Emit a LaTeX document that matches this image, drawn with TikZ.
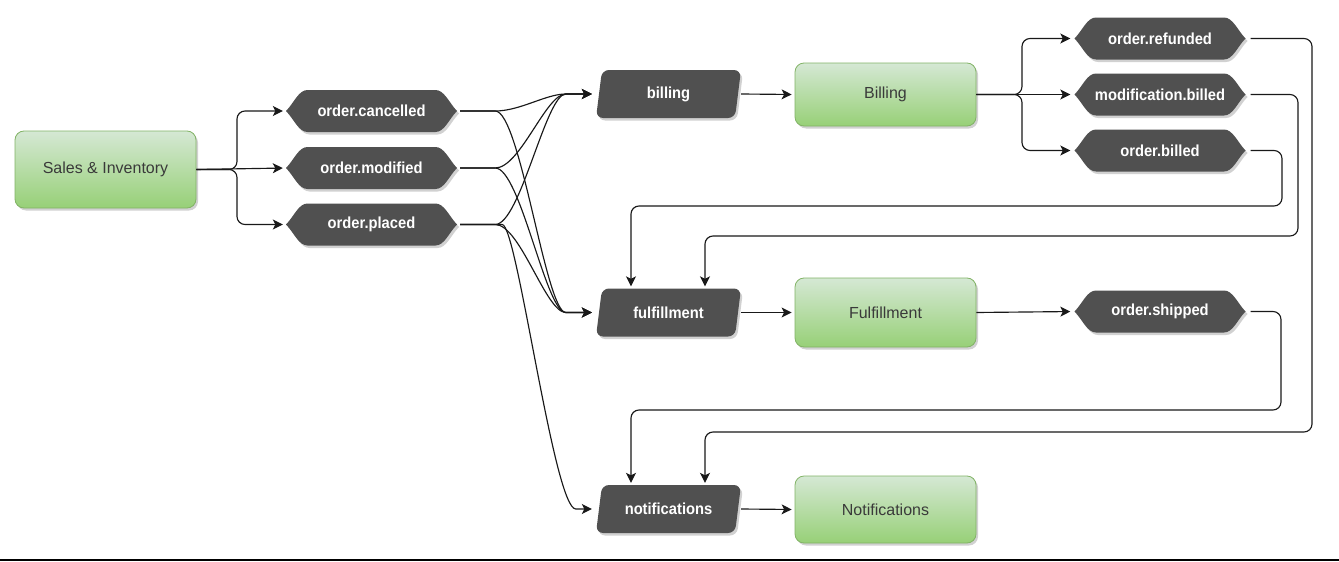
\documentclass[tikz,border=0pt]{standalone}
\usepackage{fontspec}
\setmainfont{Liberation Sans}
\newfontfamily\evtfont[FakeStretch=0.92]{Liberation Sans}
\usetikzlibrary{arrows.meta,shadows}
\definecolor{dark}{HTML}{505050}
\definecolor{gtop}{HTML}{D5E8D4}
\definecolor{gbot}{HTML}{97D077}
\definecolor{gborder}{HTML}{82B366}
\definecolor{gtext}{HTML}{3A3A3A}
\newcommand\hexshape[2]{%
  \fill[#1, shift={#2}] (-85.5,0) .. controls (-77.5,-8) and (-73,-21) .. (-64,-21) -- (64,-21)
    .. controls (73,-21) and (77.5,-8) .. (85.5,0) .. controls (77.5,8) and (73,21) .. (64,21)
    -- (-64,21) .. controls (-73,21) and (-77.5,8) .. (-85.5,0) -- cycle;}
\newcommand\parashape[2]{%
  \fill[#1, shift={#2}, rounded corners=7pt] (-66.5,-24) -- (72.5,-24) -- (66.5,24) -- (-72.5,24) -- cycle;}
\newcommand\evtnode[3]{%
  \hexshape{black,opacity=0.18,shift={(2,2.5)}}{#2}%
  \hexshape{dark}{#2}%
  \node[evt] (#1) at #2 {#3};}
\newcommand\topicnode[3]{%
  \parashape{black,opacity=0.18,shift={(2,2.5)}}{#2}%
  \parashape{dark}{#2}%
  \node[topic] (#1) at #2 {#3};}
\begin{document}
\begin{tikzpicture}[x=1pt,y=-1pt,
  conn/.style={draw=black!90, line width=1.15pt, -{Stealth[length=10pt,width=10pt,inset=2.5pt]}, shorten >=2pt},
  gbox/.style={draw=gborder, rounded corners=9pt, top color=gtop, bottom color=gbot, line width=0.8pt,
     text=gtext, font=\fontsize{16}{18}\selectfont, minimum width=181pt, inner sep=0pt,
     drop shadow={shadow xshift=2pt, shadow yshift=-2.5pt, opacity=0.18, fill=black}},
  evt/.style={rectangle, minimum width=171pt, minimum height=42pt, inner sep=0pt, text=white,
     font=\evtfont\bfseries\fontsize{16}{18}\selectfont},
  topic/.style={rectangle, minimum width=145pt, minimum height=48pt, inner sep=0pt, text=white,
     font=\evtfont\bfseries\fontsize{16}{18}\selectfont}]
\useasboundingbox (0,0) rectangle (1339,562);
\fill[white] (0,0) rectangle (1339,562);
\draw[line width=2pt] (0,560) -- (1339,560);

% green services
\node[gbox, minimum height=77pt] (si) at (105.5,169.5) {Sales \& Inventory};
\node[gbox, minimum height=63pt] (Bi) at (885.5,94.5) {Billing};
\node[gbox, minimum height=69pt] (Fu) at (885.5,312.5) {Fulfillment};
\node[gbox, minimum height=67pt] (No) at (885.5,509.5) {Notifications};

% events
\evtnode{oc}{(371.5,111)}{order.cancelled}
\evtnode{mo}{(371.5,168)}{order.modified}
\evtnode{op}{(371.5,224.5)}{order.placed}
\evtnode{orf}{(1160,38.5)}{order.refunded}
\evtnode{mb}{(1160,94.5)}{modification.billed}
\evtnode{obd}{(1160,150.5)}{order.billed}
\evtnode{os}{(1160,311.5)}{order.shipped}

% topics
\topicnode{bi}{(668.5,94)}{billing}
\topicnode{fu}{(668.5,312.5)}{fulfillment}
\topicnode{no}{(668.5,509)}{notifications}

% sales -> events
\draw[conn, shorten >=3pt, rounded corners=8pt] (si.east) -- (237,169.5) |- (oc.west);
\draw[conn, shorten >=3pt] (si.east) -- (mo.west);
\draw[conn, shorten >=3pt, rounded corners=8pt] (si.east) -- (237,169.5) |- (op.west);

% events -> topics
\foreach \e in {oc,mo,op}{
  \draw[conn, shorten <=3pt, shorten >=4pt] (\e.east) -- ++(38,0) .. controls +(25,0) and +(-20,0) .. ([xshift=-30pt]bi.west) -- (bi.west);
  \draw[conn, shorten <=3pt, shorten >=4pt] (\e.east) -- ++(38,0) .. controls +(25,0) and +(-20,0) .. ([xshift=-30pt]fu.west) -- (fu.west);
}
\draw[conn, shorten <=3pt, shorten >=4pt] (op.east) -- ++(45,0) .. controls +(15,0) and +(-22,0) .. ([xshift=-20pt]no.west) -- (no.west);

% topics -> services
\draw[conn, shorten >=3pt] (bi.east) -- (Bi.west);
\draw[conn, shorten >=3pt] (fu.east) -- (Fu.west);
\draw[conn, shorten >=3pt] (no.east) -- (No.west);

% billing -> events
\draw[conn, shorten >=4pt, rounded corners=8pt] (Bi.east) -- (1022,94.5) |- (orf.west);
\draw[conn, shorten >=4pt] (Bi.east) -- (mb.west);
\draw[conn, shorten >=4pt, rounded corners=8pt] (Bi.east) -- (1022,94.5) |- (obd.west);
\draw[conn, shorten >=4pt] (Fu.east) -- (os.west);

% loops back
\draw[conn, shorten <=5pt, rounded corners=8pt] (orf.east) -| (1312,432) -| ([xshift=36.5pt]no.north);
\draw[conn, shorten <=5pt, rounded corners=8pt] (mb.east) -| (1298,236) -| ([xshift=36.5pt]fu.north);
\draw[conn, shorten <=5pt, rounded corners=8pt] (obd.east) -| (1282,206) -| ([xshift=-37.5pt]fu.north);
\draw[conn, shorten <=5pt, rounded corners=8pt] (os.east) -| (1281,410) -| ([xshift=-37.5pt]no.north);
\end{tikzpicture}
\end{document}
